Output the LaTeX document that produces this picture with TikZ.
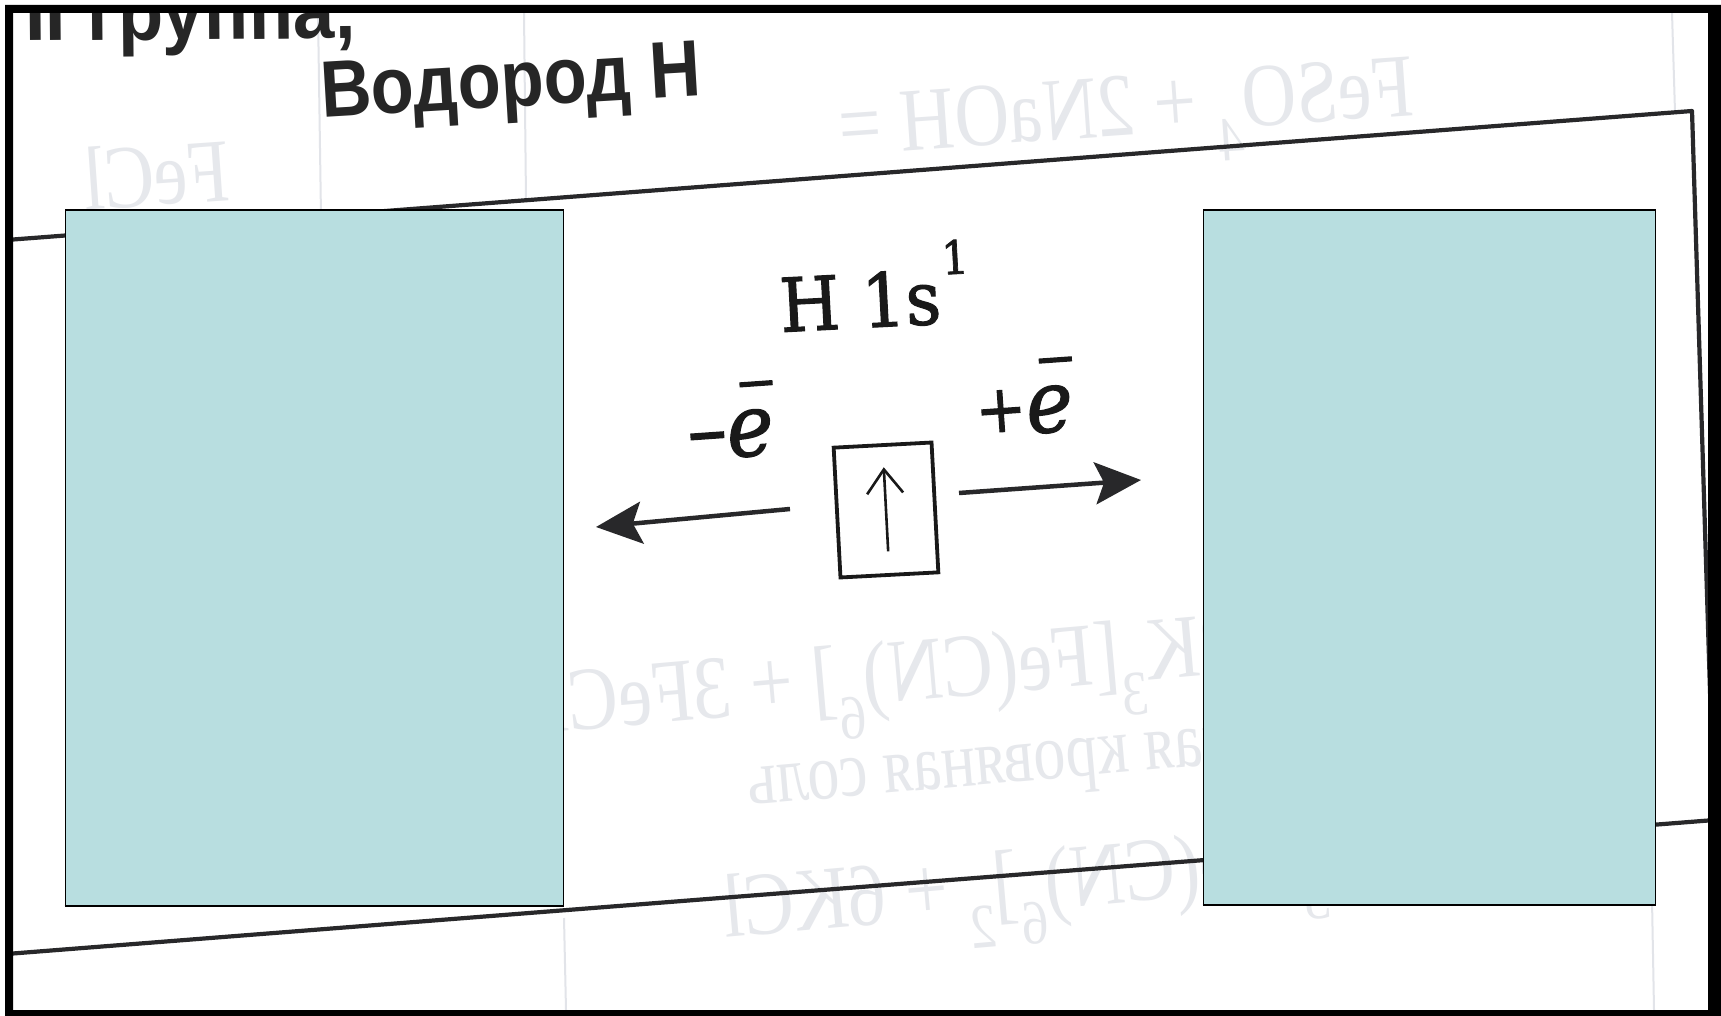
\documentclass[tikz,border=0pt]{standalone}
\usepackage{fontspec}
\usetikzlibrary{arrows.meta,calc}
\newfontfamily\headfont{Liberation Sans}
\newfontfamily\labfont{DejaVu Serif}[FakeBold=1.6]
\newfontfamily\ghostfont{Liberation Serif}
\definecolor{coverteal}{RGB}{184,222,224}
\definecolor{ink}{RGB}{40,40,42}
\definecolor{ghostgray}{RGB}{230,232,236}
\definecolor{rulegray}{RGB}{226,228,233}
\newcommand\ebar{\rlap{\kern0.2em\rule[0.8em]{0.42em}{0.06em}}\textit{e}}
\tikzset{
  headtext/.style={font=\headfont\bfseries\fontsize{80}{80}\selectfont, text=black!85, inner sep=0pt},
  conftext/.style={font=\labfont\fontsize{74}{74}\selectfont, text=black!90, inner sep=0pt},
  etext/.style={font=\labfont\fontsize{86}{86}\selectfont, text=black!90, inner sep=0pt},
  ghost/.style={font=\ghostfont\fontsize{90}{90}\selectfont, text=ghostgray, inner sep=0pt},
  pageline/.style={draw=ink, line width=4.2pt},
  faintline/.style={draw=rulegray, line width=2pt},
  cover/.style={fill=coverteal, draw=black, line width=1.4pt, inner sep=0pt},
  orbital/.style={draw=black!90, line width=3.8pt, minimum width=98pt, minimum height=130pt, inner sep=0pt},
  bigarrow/.style={draw=ink, line width=4.5pt, -{Stealth[length=46pt,width=42pt,inset=9pt]}},
  spin/.style={draw=black!90, line width=2.6pt, -{Straight Barb[length=24pt,width=36pt]}}
}
\begin{document}
\begin{tikzpicture}[x=1pt,y=-1pt]
\useasboundingbox (0,0) rectangle (1721,1016);
\fill[white] (0,0) rectangle (1721,1016);
\begin{scope}
\clip (13,13) rectangle (1708,1010);
% ghost (bleed-through) text
\node[ghost, anchor=base west, rotate=4, xscale=-0.84] (g1) at (1416,115) {FeSO\textsubscript{4} + 2NaOH =};
\node[ghost, anchor=base west, rotate=4, xscale=-0.84] (g2) at (232,200) {FeCl};
\node[ghost, anchor=base west, rotate=5, xscale=-0.84] (g4) at (1240,672) {2K\textsubscript{3}[Fe(CN)\textsubscript{6}] + 3FeCl\textsubscript{2} =};
\node[ghost, anchor=base west, rotate=5, xscale=-0.8, font=\ghostfont\fontsize{80}{80}\selectfont] (g5) at (1358,752) {красная кровяная соль};
\node[ghost, anchor=base west, rotate=5, xscale=-0.84] (g6) at (1405,878) {Fe\textsubscript{3}[Fe(CN)\textsubscript{6}]\textsubscript{2} + 6KCl};
% faint column rules
\draw[faintline] (318,13) -- (321,216);
\draw[faintline] (524,13) -- (526,200);
\draw[faintline] (1672,13) -- (1675,112);
\draw[faintline] (564,918) -- (566,1010);
\draw[faintline] (1652,900) -- (1654,1010);
% page table lines
\draw[pageline, line join=round] (0,240.5) -- (1692,111) -- (1714,820);
\draw[pageline] (0,954.5) -- (1721,819.5);
% headings
\node[headtext, anchor=base west, rotate=0.5, xscale=0.93] (group) at (25,41) {II группа,};
\node[headtext, anchor=base west, rotate=3.4, xscale=0.88] (title) at (322,118) {Водород H};
\end{scope}
% electron configuration
\node[conftext, anchor=base west, rotate=3, xscale=0.93] (conf) at (781,332) {H\hspace{0.32em}1s\kern0.04em\raisebox{0.66em}{\fontsize{46}{46}\selectfont 1}};
\node[orbital, rotate=3] (orb) at (886,510) {};
\draw[spin] ($(orb.south)!0.19!(orb.north)$) -- ($(orb.south)!0.82!(orb.north)$);
\coordinate (lstart) at (790,509);
\coordinate (lend) at (596,527);
\coordinate (rstart) at (959,493);
\coordinate (rend) at (1141,480);
\draw[bigarrow] (lstart) -- (lend);
\draw[bigarrow] (rstart) -- (rend);
\node[etext, anchor=base west, rotate=4, xscale=0.92] (lose) at (689,460) {–\ebar};
\node[etext, anchor=base west, rotate=4, xscale=0.92] (gain) at (977,437) {\raisebox{0.04em}{\fontsize{66}{66}\selectfont +}\ebar};
% teal covers
\node[cover, anchor=north west, minimum width=498pt, minimum height=695pt] (coverL) at (64.5,209.5) {};
\draw[line width=2.4pt] (coverL.south west) -- (coverL.south east);
\node[cover, anchor=north west, minimum width=452pt, minimum height=694pt] (coverR) at (1202.5,209.5) {};
\draw[line width=2.4pt] (coverR.south west) -- (coverR.south east);
% outer frame
\fill[black, even odd rule] (5,5) rectangle (1721,1016) (13,13) rectangle (1708,1010);
\end{tikzpicture}
\end{document}
